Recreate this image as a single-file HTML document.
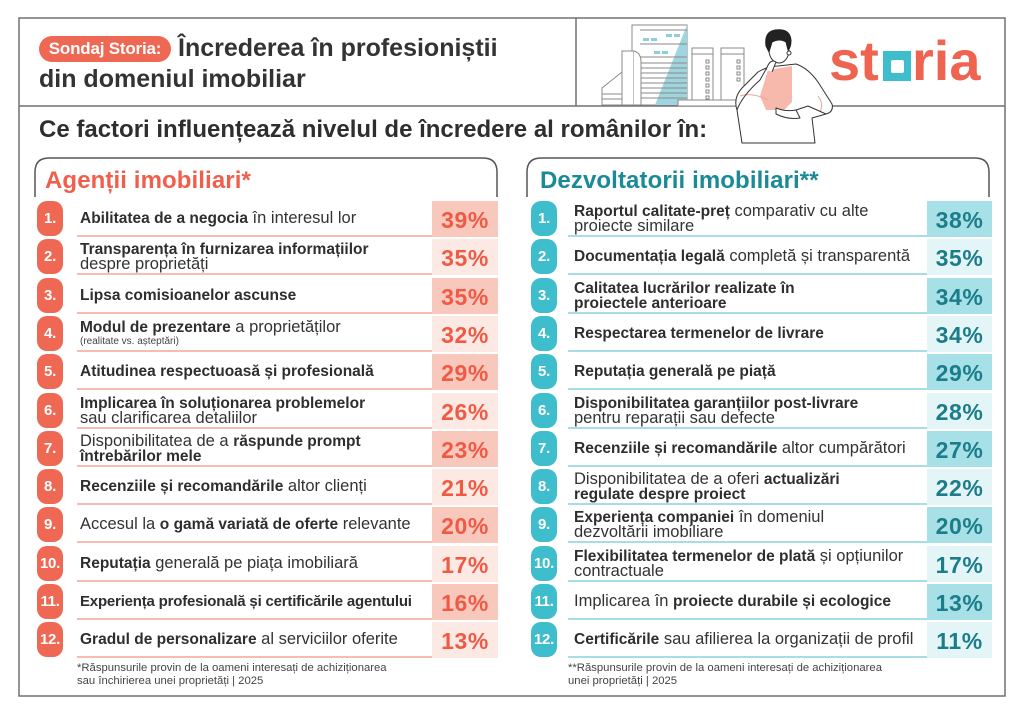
<!DOCTYPE html>
<html><head><meta charset="utf-8">
<style>
*{margin:0;padding:0;box-sizing:border-box}
html,body{width:1024px;height:715px;background:#fff;overflow:hidden}
body{position:relative;font-family:"Liberation Sans","DejaVu Sans",sans-serif;color:#333}
.abs{position:absolute}
.pill{left:39px;top:36px;width:132px;height:26px;border-radius:13px;background:#ef6853;color:#fff;font-weight:700;font-size:17px;line-height:26px;text-align:center;letter-spacing:-0.2px}
.t1{left:178px;top:33px;font-size:25px;font-weight:700;color:#333;white-space:nowrap;line-height:30px}
.t2{left:39px;top:64px;font-size:25px;font-weight:700;color:#333;white-space:nowrap;line-height:30px}
.sub{left:39px;top:115px;font-size:24px;font-weight:700;color:#2e2e2e;white-space:nowrap;line-height:30px}
.h{top:166px;font-size:24px;font-weight:700;white-space:nowrap;line-height:30px}
.row{position:absolute;width:461px;height:36px}
.badge{position:absolute;left:0;top:0;width:26px;height:35px;border-radius:10px;color:#fff;font-weight:700;font-size:15px;line-height:35px;text-align:center;letter-spacing:-0.3px}
.txt{position:absolute;top:0;height:35px;display:flex;flex-direction:column;justify-content:center;white-space:nowrap;font-size:16.5px;line-height:15px;color:#333}
.txt b{font-weight:700;font-size:15.5px;color:#2e2e2e}
.txt small{font-size:10px;line-height:13px;color:#444}
.ul{position:absolute;height:2px;top:34px}
.box{position:absolute;top:0;height:36px;font-weight:700;font-size:23px;line-height:38px;text-align:center;letter-spacing:0.6px}
.L .badge{background:#ef6853}
.L .txt{left:43px}
.L .ul{left:40px;width:355px;background:#f6bcb0}
.L .box{left:395px;width:66px;color:#f05a44}
.L .d{background:#f8c8bd}
.L .l{background:#fde9e4}
.R .badge{background:#3ebdcc}
.R .txt{left:43px}
.R .ul{left:37px;width:359px;background:#a9dde5}
.R .box{left:396px;width:65px;color:#1b7d8a}
.R .d{background:#a8e0e7}
.R .l{background:#e4f5f7}
.foot{font-size:11.3px;line-height:13px;color:#444;white-space:nowrap}
</style></head><body>

<svg class="abs" style="left:0;top:0" width="1024" height="715" viewBox="0 0 1024 715">
  <rect x="19" y="18" width="986" height="678" fill="none" stroke="#707070" stroke-width="1.5"/>
  <line x1="19" y1="106" x2="1005" y2="106" stroke="#707070" stroke-width="1.5"/>
  <line x1="576" y1="18" x2="576" y2="106" stroke="#707070" stroke-width="1.5"/>
  <path d="M35,197 V172 Q35,158 49,158 H483 Q497,158 497,172 V197" fill="none" stroke="#555" stroke-width="1.5"/>
  <path d="M527,197 V172 Q527,158 541,158 H975 Q989,158 989,172 V197" fill="none" stroke="#555" stroke-width="1.5"/>
  <g stroke="#8a8a8a" stroke-width="1" fill="#fff">
    <rect x="632" y="25" width="55" height="80"/>
    <polygon points="687,25 687,105 655,105" fill="#9fd5df" stroke="none"/>
    <g stroke="#8a8a8a">
      <line x1="640" y1="30" x2="687" y2="30"/>
      <line x1="640" y1="44" x2="687" y2="44"/>
      <line x1="640" y1="57" x2="687" y2="57"/>
      <line x1="640" y1="63" x2="687" y2="63"/>
      <line x1="640" y1="68" x2="687" y2="68"/>
      <line x1="640" y1="73" x2="687" y2="73"/>
      <line x1="640" y1="78" x2="687" y2="78"/>
      <line x1="640" y1="83" x2="687" y2="83"/>
      <line x1="640" y1="88" x2="687" y2="88"/>
      <line x1="640" y1="93" x2="687" y2="93"/>
      <line x1="640" y1="98" x2="687" y2="98"/>
    </g>
    <g fill="#8ccfdc" stroke="none">
      <rect x="643" y="38" width="6" height="3"/><rect x="651" y="38" width="6" height="3"/>
      <rect x="666" y="34" width="6" height="3"/><rect x="674" y="34" width="6" height="3"/>
      <rect x="654" y="51" width="6" height="3"/><rect x="662" y="51" width="6" height="3"/>
    </g>
    <polygon points="602,105 602,88 622,72 622,105"/>
    <line x1="602" y1="94" x2="622" y2="94"/>
    <line x1="602" y1="99" x2="622" y2="99"/>
    <rect x="622" y="51" width="12" height="54"/>
    <path d="M634,51 Q641,53 641,62 V105 H634"/>
    <rect x="692" y="48" width="21" height="57"/>
    <line x1="692" y1="54" x2="713" y2="54"/>
    <rect x="721" y="48" width="23" height="57"/>
    <line x1="721" y1="54" x2="744" y2="54"/>
    <g fill="none">
      <rect x="706" y="60" width="3" height="3"/><rect x="706" y="66" width="3" height="3"/><rect x="706" y="72" width="3" height="3"/><rect x="706" y="78" width="3" height="3"/><rect x="706" y="84" width="3" height="3"/><rect x="706" y="90" width="3" height="3"/><rect x="706" y="96" width="3" height="3"/>
      <rect x="737" y="60" width="3" height="3"/><rect x="737" y="66" width="3" height="3"/><rect x="737" y="72" width="3" height="3"/><rect x="737" y="78" width="3" height="3"/>
    </g>
    <rect x="678" y="100" width="58" height="6"/>
  </g>
  <g stroke="#333" stroke-width="1" fill="#fff" stroke-linejoin="round">
    <path d="M742,143 L737,110 Q733,98 742,88 L758,72 Q768,66 778,66 L796,64 Q808,68 818,82 L832,104 Q834,112 826,114 L812,118 L815,143 Z"/>
    <polygon points="768,70 792,66 792,102 784,110 766,110 760,96" fill="#f6b9ab" stroke="none"/>
    <path d="M740,96 Q752,92 768,100" fill="none" stroke="#e9a598"/>
    <path d="M818,96 Q824,104 820,112" fill="none" stroke="#e9a598"/>
    <path d="M790,112 L808,106 L826,114" fill="none"/>
    <path d="M776,108 Q786,112 796,110 L800,118 Q788,120 776,114 Z"/>
    <path d="M737,110 Q742,96 760,80 L770,62" fill="none"/>
    <ellipse cx="779" cy="50" rx="10" ry="13"/>
    <path d="M766,46 Q764,32 775,30 Q790,28 791,40 Q791,48 788,50 L786,42 Q780,38 772,42 L769,52 Z" fill="#222" stroke="#222"/>
    <circle cx="789" cy="53" r="2" fill="#fff"/>
    <path d="M766,70 Q770,58 776,62 L772,72" fill="#fff"/>
  </g>
  <text x="829" y="80" font-family="Liberation Sans, sans-serif" font-weight="700" font-size="56" fill="#ef6450">st</text>
  <rect x="883" y="51" width="28" height="30" fill="#3ebdcc"/>
  <rect x="891" y="60" width="13" height="13" rx="2" fill="#fff"/>
  <text x="912" y="80" font-family="Liberation Sans, sans-serif" font-weight="700" font-size="56" fill="#ef6450">ria</text>
</svg>

<div class="abs pill">Sondaj Storia:</div>
<div class="abs t1">Încrederea în profesioniștii</div>
<div class="abs t2">din domeniul imobiliar</div>
<div class="abs sub">Ce factori influențează nivelul de încredere al românilor în:</div>
<div class="abs h" style="left:45px;color:#ef5f4b;letter-spacing:0.1px">Agenții imobiliari*</div>
<div class="abs h" style="left:540px;color:#1b8a97;letter-spacing:0.1px">Dezvoltatorii imobiliari**</div>

<div class="L">
<div class="row" style="left:37px;top:201px"><div class="badge">1.</div><div class="txt"><span><b>Abilitatea de a negocia</b> în interesul lor</span></div><div class="ul"></div><div class="box d">39%</div></div>
<div class="row" style="left:37px;top:239px"><div class="badge">2.</div><div class="txt"><span><b>Transparența în furnizarea informațiilor</b></span><span>despre proprietăți</span></div><div class="ul"></div><div class="box l">35%</div></div>
<div class="row" style="left:37px;top:278px"><div class="badge">3.</div><div class="txt"><span><b>Lipsa comisioanelor ascunse</b></span></div><div class="ul"></div><div class="box d">35%</div></div>
<div class="row" style="left:37px;top:316px"><div class="badge">4.</div><div class="txt"><span><b>Modul de prezentare</b> a proprietăților</span><small>(realitate vs. așteptări)</small></div><div class="ul"></div><div class="box l">32%</div></div>
<div class="row" style="left:37px;top:354px"><div class="badge">5.</div><div class="txt"><span><b>Atitudinea respectuoasă și profesională</b></span></div><div class="ul"></div><div class="box d">29%</div></div>
<div class="row" style="left:37px;top:393px"><div class="badge">6.</div><div class="txt"><span><b>Implicarea în soluționarea problemelor</b></span><span>sau clarificarea detaliilor</span></div><div class="ul"></div><div class="box l">26%</div></div>
<div class="row" style="left:37px;top:431px"><div class="badge">7.</div><div class="txt"><span>Disponibilitatea de a <b>răspunde prompt</b></span><span><b>întrebărilor mele</b></span></div><div class="ul"></div><div class="box d">23%</div></div>
<div class="row" style="left:37px;top:469px"><div class="badge">8.</div><div class="txt"><span><b>Recenziile și recomandările</b> altor clienți</span></div><div class="ul"></div><div class="box l">21%</div></div>
<div class="row" style="left:37px;top:507px"><div class="badge">9.</div><div class="txt"><span>Accesul la <b>o gamă variată de oferte</b> relevante</span></div><div class="ul"></div><div class="box d">20%</div></div>
<div class="row" style="left:37px;top:546px"><div class="badge">10.</div><div class="txt"><span><b>Reputația</b> generală pe piața imobiliară</span></div><div class="ul"></div><div class="box l">17%</div></div>
<div class="row" style="left:37px;top:584px"><div class="badge">11.</div><div class="txt"><span style="letter-spacing:-0.2px"><b style="font-size:15px">Experiența profesională și certificările agentului</b></span></div><div class="ul"></div><div class="box d">16%</div></div>
<div class="row" style="left:37px;top:622px"><div class="badge">12.</div><div class="txt"><span><b>Gradul de personalizare</b> al serviciilor oferite</span></div><div class="ul"></div><div class="box l">13%</div></div>
</div>

<div class="R">
<div class="row" style="left:531px;top:201px"><div class="badge">1.</div><div class="txt"><span><b>Raportul calitate-preț</b> comparativ cu alte</span><span>proiecte similare</span></div><div class="ul"></div><div class="box d">38%</div></div>
<div class="row" style="left:531px;top:239px"><div class="badge">2.</div><div class="txt"><span><b>Documentația legală</b> completă și transparentă</span></div><div class="ul"></div><div class="box l">35%</div></div>
<div class="row" style="left:531px;top:278px"><div class="badge">3.</div><div class="txt"><span><b>Calitatea lucrărilor realizate în</b></span><span><b>proiectele anterioare</b></span></div><div class="ul"></div><div class="box d">34%</div></div>
<div class="row" style="left:531px;top:316px"><div class="badge">4.</div><div class="txt"><span><b>Respectarea termenelor de livrare</b></span></div><div class="ul"></div><div class="box l">34%</div></div>
<div class="row" style="left:531px;top:354px"><div class="badge">5.</div><div class="txt"><span><b>Reputația generală pe piață</b></span></div><div class="ul"></div><div class="box d">29%</div></div>
<div class="row" style="left:531px;top:393px"><div class="badge">6.</div><div class="txt"><span><b>Disponibilitatea garanțiilor post-livrare</b></span><span>pentru reparații sau defecte</span></div><div class="ul"></div><div class="box l">28%</div></div>
<div class="row" style="left:531px;top:431px"><div class="badge">7.</div><div class="txt"><span><b>Recenziile și recomandările</b> altor cumpărători</span></div><div class="ul"></div><div class="box d">27%</div></div>
<div class="row" style="left:531px;top:469px"><div class="badge">8.</div><div class="txt"><span>Disponibilitatea de a oferi <b>actualizări</b></span><span><b>regulate despre proiect</b></span></div><div class="ul"></div><div class="box l">22%</div></div>
<div class="row" style="left:531px;top:507px"><div class="badge">9.</div><div class="txt"><span><b>Experiența companiei</b> în domeniul</span><span>dezvoltării imobiliare</span></div><div class="ul"></div><div class="box d">20%</div></div>
<div class="row" style="left:531px;top:546px"><div class="badge">10.</div><div class="txt"><span><b>Flexibilitatea termenelor de plată</b> și opțiunilor</span><span>contractuale</span></div><div class="ul"></div><div class="box l">17%</div></div>
<div class="row" style="left:531px;top:584px"><div class="badge">11.</div><div class="txt"><span>Implicarea în <b>proiecte durabile și ecologice</b></span></div><div class="ul"></div><div class="box d">13%</div></div>
<div class="row" style="left:531px;top:622px"><div class="badge">12.</div><div class="txt"><span><b>Certificările</b> sau afilierea la organizații de profil</span></div><div class="ul"></div><div class="box l">11%</div></div>
</div>

<div class="abs foot" style="left:77px;top:662px">*Răspunsurile provin de la oameni interesați de achiziționarea<br>sau închirierea unei proprietăți | 2025</div>
<div class="abs foot" style="left:568px;top:662px">**Răspunsurile provin de la oameni interesați de achiziționarea<br>unei proprietăți | 2025</div>

</body></html>
